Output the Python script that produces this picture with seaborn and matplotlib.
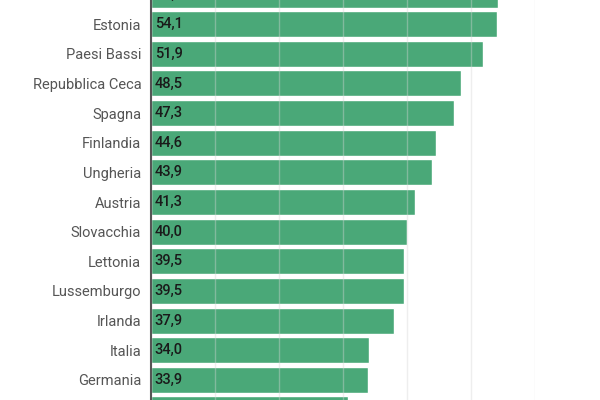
import seaborn as sns
import matplotlib.pyplot as plt
import pandas as pd

paesi = ["Danimarca", "Estonia", "Paesi Bassi", "Repubblica Ceca", "Spagna",
         "Finlandia", "Ungheria", "Austria", "Slovacchia", "Lettonia",
         "Lussemburgo", "Irlanda", "Italia", "Germania", "Altro"]
valori = [54.2, 54.1, 51.9, 48.5, 47.3, 44.6, 43.9, 41.3, 40.0, 39.5,
          39.5, 37.9, 34.0, 33.9, 30.8]

df = pd.DataFrame({"Paese": paesi, "Valore": valori})

sns.set_style("white")
plt.rcParams['font.family'] = ['Roboto', 'DejaVu Sans']

fig = plt.figure(figsize=(6, 4), dpi=100)
# l'asse sborda sopra e sotto: il grafico e' ritagliato come nel riferimento
ax = fig.add_axes([0.2517, -0.075, 0.64, 1.15])

sns.barplot(data=df, x="Valore", y="Paese", color="#4aa878", saturation=1,
            width=0.88, ax=ax)

# griglia verticale sopra le barre, molto tenue
ax.set_axisbelow(False)
ax.xaxis.grid(True, color="#d6d6d6", linewidth=1, alpha=0.4)
ax.set_xlim(0, 60)
ax.set_xticks(range(0, 61, 10))
ax.set_ylim(14.69, -0.826)

for i, v in enumerate(valori):
    ax.text(0.6, i, f"{v:.1f}".replace(".", ","), va="center", ha="left",
            fontsize=10.5, color="#1a1a1a", fontweight="medium")

ax.set_xlabel("")
ax.set_ylabel("")
ax.tick_params(axis="x", length=0, labelbottom=False)
ax.tick_params(axis="y", length=0, pad=7, labelsize=10.5, labelcolor="#555555")
for s in ["top", "right", "bottom"]:
    ax.spines[s].set_visible(False)
ax.spines["left"].set_color("#555555")
ax.spines["left"].set_linewidth(1.5)
ax.spines["left"].set_zorder(5)

fig.savefig("out.png", dpi=100)
